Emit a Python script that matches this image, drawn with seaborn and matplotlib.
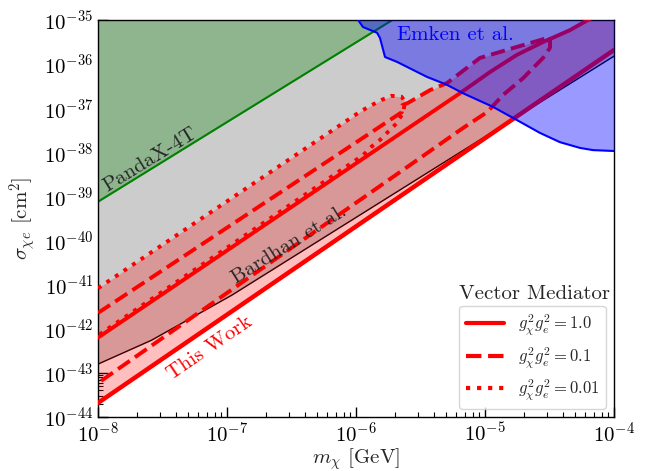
import numpy as np
import pandas as pd
import matplotlib
matplotlib.use("Agg")
import matplotlib.pyplot as plt
import seaborn as sns
from matplotlib.lines import Line2D
from matplotlib.ticker import LogLocator, NullFormatter

# all values are log10 of m_chi [GeV] and sigma [cm^2]
pandax_m = [-8.0, -4.0]
pandax_s = [-39.12, -31.9]

bardhan_m = [-8.0, -7.586, -6.964, -4.767, -4.0]
bardhan_s = [-42.80, -42.26, -41.24, -37.22, -35.82]

emken_m = [-5.984, -5.946, -5.837, -5.814, -5.775, -5.682, -5.450, -5.295, -5.171,
           -4.938, -4.752, -4.574, -4.419, -4.264, -4.163, -4.0]
emken_s = [-35.00, -35.16, -35.29, -35.41, -35.84, -35.95, -36.29, -36.47, -36.66,
           -36.97, -37.27, -37.56, -37.77, -37.90, -37.95, -37.97]

# g^2 g^2 = 1.0 (solid)
solid_low_m = [-8.0, -4.0]
solid_low_s = [-43.68, -35.68]
solid_up_m = [-8.0, -5.194, -4.961, -4.752, -4.550, -4.341, -4.202, -4.0]
solid_up_s = [-42.2, -36.66, -36.18, -35.79, -35.50, -35.23, -35.0, -34.7]

# g^2 g^2 = 0.1 (dashed), closed contour: upper branch then lower branch back
dash_up_m = [-8.0, -5.645, -5.64, -5.597, -5.426, -5.295, -5.039, -4.752, -4.496]
dash_up_s = [-41.64, -37.09, -36.93, -36.88, -36.59, -36.43, -35.86, -35.61, -35.39]
dash_low_m = [-4.496, -4.550, -4.705, -4.860, -4.984, -5.171, -8.0]
dash_low_s = [-35.63, -35.86, -36.32, -36.70, -37.09, -37.45, -43.23]

# g^2 g^2 = 0.01 (dotted), closed contour
dot_up_m = [-8.0, -5.969, -5.891, -5.80, -5.724, -5.647, -5.62]
dot_up_s = [-41.08, -37.08, -36.95, -36.81, -36.72, -36.74, -36.85]
dot_low_m = [-5.62, -5.635, -5.684, -5.75, -5.814, -5.879, -5.943, -8.0]
dot_low_s = [-36.85, -37.10, -37.34, -37.53, -37.72, -37.87, -38.06, -42.15]

legend_labels = [r"$g_\chi^2 g_e^2 = 1.0$", r"$g_\chi^2 g_e^2 = 0.1$", r"$g_\chi^2 g_e^2 = 0.01$"]

sns.set_style("ticks")
plt.rcParams["font.family"] = "serif"
plt.rcParams["font.serif"] = ["cmr10"]
plt.rcParams["mathtext.fontset"] = "cm"
plt.rcParams["axes.formatter.use_mathtext"] = True
plt.rcParams["axes.unicode_minus"] = False

p = lambda v: 10.0 ** np.asarray(v)

fig = plt.figure(figsize=(6.47, 4.71), dpi=100)
ax = fig.add_axes([0.1515, 0.1146, 0.7975, 0.843])
ax.set_xscale("log")
ax.set_yscale("log")
top = 1e-35

# Bardhan region (grey) and PandaX (green)
ax.fill_between(p(bardhan_m), p(bardhan_s), top, color="#cccccc", lw=0, zorder=1)
ax.fill_between(p(pandax_m), p(pandax_s), top, color="green", alpha=0.3, lw=0, zorder=1.5)
sns.lineplot(x=p(pandax_m), y=p(pandax_s), color="green", lw=1.5, ax=ax, zorder=2)
sns.lineplot(x=p(bardhan_m), y=p(bardhan_s), color="black", lw=1.0, ax=ax, zorder=2)

# this work: red band (union of the contours)
grid = np.linspace(-8, -4, 600)
env = np.maximum.reduce([
    np.interp(grid, solid_up_m, solid_up_s),
    np.interp(grid, dash_up_m, dash_up_s, right=-99),
    np.interp(grid, dot_up_m, dot_up_s, right=-99),
])
ax.fill_between(p(grid), p(np.interp(grid, solid_low_m, solid_low_s)), p(env),
                color="red", alpha=0.25, lw=0, zorder=2.5)

sns.lineplot(x=p(solid_low_m), y=p(solid_low_s), color="red", lw=3.2, ax=ax, zorder=3)
sns.lineplot(x=p(solid_up_m), y=p(solid_up_s), color="red", lw=2.8, ax=ax, zorder=3)
sns.lineplot(x=p(dash_up_m + dash_low_m), y=p(dash_up_s + dash_low_s), color="red", lw=2.8,
             linestyle="--", sort=False, estimator=None, ax=ax, zorder=3)
sns.lineplot(x=p(dot_up_m + dot_low_m), y=p(dot_up_s + dot_low_s), color="red", lw=2.8,
             linestyle=":", sort=False, estimator=None, ax=ax, zorder=3)

# Emken et al. on top
ax.fill_between(p(emken_m), p(emken_s), top, color="blue", alpha=0.4, lw=0, zorder=4)
sns.lineplot(x=p(emken_m), y=p(emken_s), color="blue", lw=1.5, ax=ax, zorder=4.5)

ax.set_xlim(1e-8, 1e-4)
ax.set_ylim(1e-44, 1e-35)
ax.yaxis.set_major_locator(LogLocator(base=10, numticks=20))
ax.yaxis.set_minor_locator(LogLocator(base=10, subs=np.arange(2, 10), numticks=200))
ax.yaxis.set_minor_formatter(NullFormatter())
ax.xaxis.set_minor_locator(LogLocator(base=10, subs=np.arange(2, 10), numticks=200))
ax.xaxis.set_minor_formatter(NullFormatter())
ax.tick_params(which="both", direction="in", labelsize=15, colors="black")
ax.tick_params(which="major", length=7, width=1)
ax.tick_params(which="minor", length=3.5, width=0.8)
for s in ax.spines.values():
    s.set_color("black")
    s.set_linewidth(1)

ax.set_xlabel(r"$m_\chi$ [GeV]", fontsize=15, labelpad=0)
ax.set_ylabel(r"$\sigma_{\chi e}$ [cm$^2$]", fontsize=15, labelpad=4)

ax.text(10**-7.597, 10**-38.17, "PandaX-4T", rotation=31.6, fontsize=15,
        ha="center", va="center", rotation_mode="anchor", zorder=6)
ax.text(10**-6.52, 10**-40.1, "Bardhan et al.", rotation=32, fontsize=15,
        ha="center", va="center", rotation_mode="anchor", zorder=6)
ax.text(10**-7.132, 10**-42.44, "This Work", rotation=34.4, fontsize=15, color="red",
        ha="center", va="center", rotation_mode="anchor", zorder=6)
ax.text(10**-5.233, 10**-35.34, "Emken et al.", fontsize=15, color="blue",
        ha="center", va="center", zorder=6)
ax.text(0.992, 0.31, "Vector Mediator", transform=ax.transAxes, fontsize=15,
        ha="right", va="center", zorder=8)

handles = [Line2D([], [], color="red", lw=3, ls=ls) for ls in ["-", "--", ":"]]
ax.legend(handles, legend_labels, loc="lower right", fontsize=12, handlelength=2.3,
          framealpha=0.8, edgecolor="0.8", labelspacing=0.45).set_zorder(7)

fig.savefig("out.png", dpi=100)
